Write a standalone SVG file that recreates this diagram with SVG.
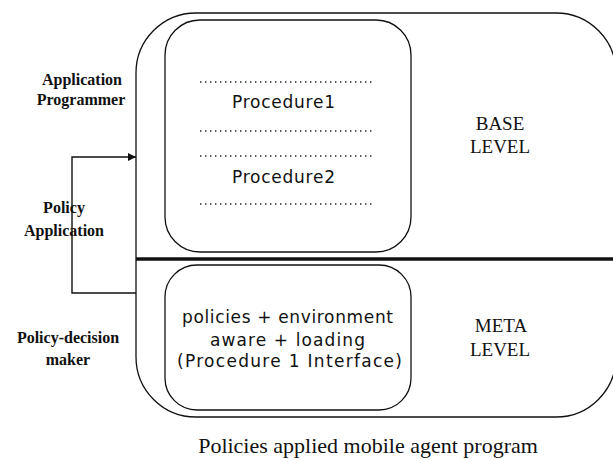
<svg xmlns="http://www.w3.org/2000/svg" width="613" height="460" viewBox="0 0 613 460">
  <style>
    .frame { fill: none; stroke: #111; stroke-width: 1.3; }
    .dots { stroke: #222; stroke-width: 1.4; stroke-dasharray: 1.4 3.6; }
    .sans { font-family: "DejaVu Sans", "Liberation Sans", Arial, sans-serif; font-size: 17px; fill: #111; }
    .serif { font-family: "Liberation Serif", "Times New Roman", serif; fill: #111; text-anchor: middle; }
    .side { font-size: 16px; font-weight: bold; }
    .level { font-size: 19px; }
    .conn { fill: none; stroke: #111; stroke-width: 1.4; }
  </style>
  <defs>
    <marker id="arrow" viewBox="0 0 10 10" refX="10" refY="5" markerWidth="9" markerHeight="8" markerUnits="userSpaceOnUse" orient="auto">
      <path d="M0,0 L10,5 L0,10 z" fill="#111"/>
    </marker>
  </defs>
  <rect width="613" height="460" fill="#fff"/>

  <!-- outer program boundary with base/meta split -->
  <g id="program">
    <rect class="frame" x="136" y="13" width="480" height="404" rx="60" ry="60"/>
    <line x1="136" y1="259" x2="613" y2="259" stroke="#111" stroke-width="3.5"/>
    <text class="serif level" x="500" y="130">BASE</text>
    <text class="serif level" x="500" y="153">LEVEL</text>
    <text class="serif level" x="501" y="332">META</text>
    <text class="serif level" x="500" y="356">LEVEL</text>
  </g>

  <!-- base level procedures -->
  <g id="procedures">
    <rect class="frame" x="165" y="20" width="246" height="232" rx="35" ry="35"/>
    <line class="dots" x1="200" y1="82" x2="373" y2="82"/>
    <text class="sans" x="232" y="108" textLength="103" lengthAdjust="spacing">Procedure1</text>
    <line class="dots" x1="200" y1="131" x2="373" y2="131"/>
    <line class="dots" x1="200" y1="156" x2="373" y2="156"/>
    <text class="sans" x="232" y="183" textLength="103" lengthAdjust="spacing">Procedure2</text>
    <line class="dots" x1="200" y1="204" x2="373" y2="204"/>
  </g>

  <!-- meta level policies -->
  <g id="policies">
    <rect class="frame" x="165" y="265" width="246" height="145" rx="32" ry="32"/>
    <text class="sans" x="182" y="323" textLength="211" lengthAdjust="spacing">policies + environment</text>
    <text class="sans" x="210" y="346" textLength="155" lengthAdjust="spacing">aware + loading</text>
    <text class="sans" x="177" y="367" textLength="225" lengthAdjust="spacing">(Procedure 1 Interface)</text>
  </g>

  <!-- side roles -->
  <g id="app-programmer">
    <text class="serif side" x="82" y="85">Application</text>
    <text class="serif side" x="81" y="105">Programmer</text>
  </g>
  <g id="policy-application">
    <text class="serif side" x="64" y="213">Policy</text>
    <text class="serif side" x="64" y="236">Application</text>
  </g>
  <g id="policy-decision-maker">
    <text class="serif side" x="68" y="343">Policy-decision</text>
    <text class="serif side" x="68" y="365">maker</text>
  </g>

  <g id="connectors">
    <polyline class="conn" points="136,293 72,293 72,157 136,157" marker-end="url(#arrow)"/>
  </g>

  <text class="serif" x="368" y="453" font-size="22">Policies applied mobile agent program</text>
</svg>
